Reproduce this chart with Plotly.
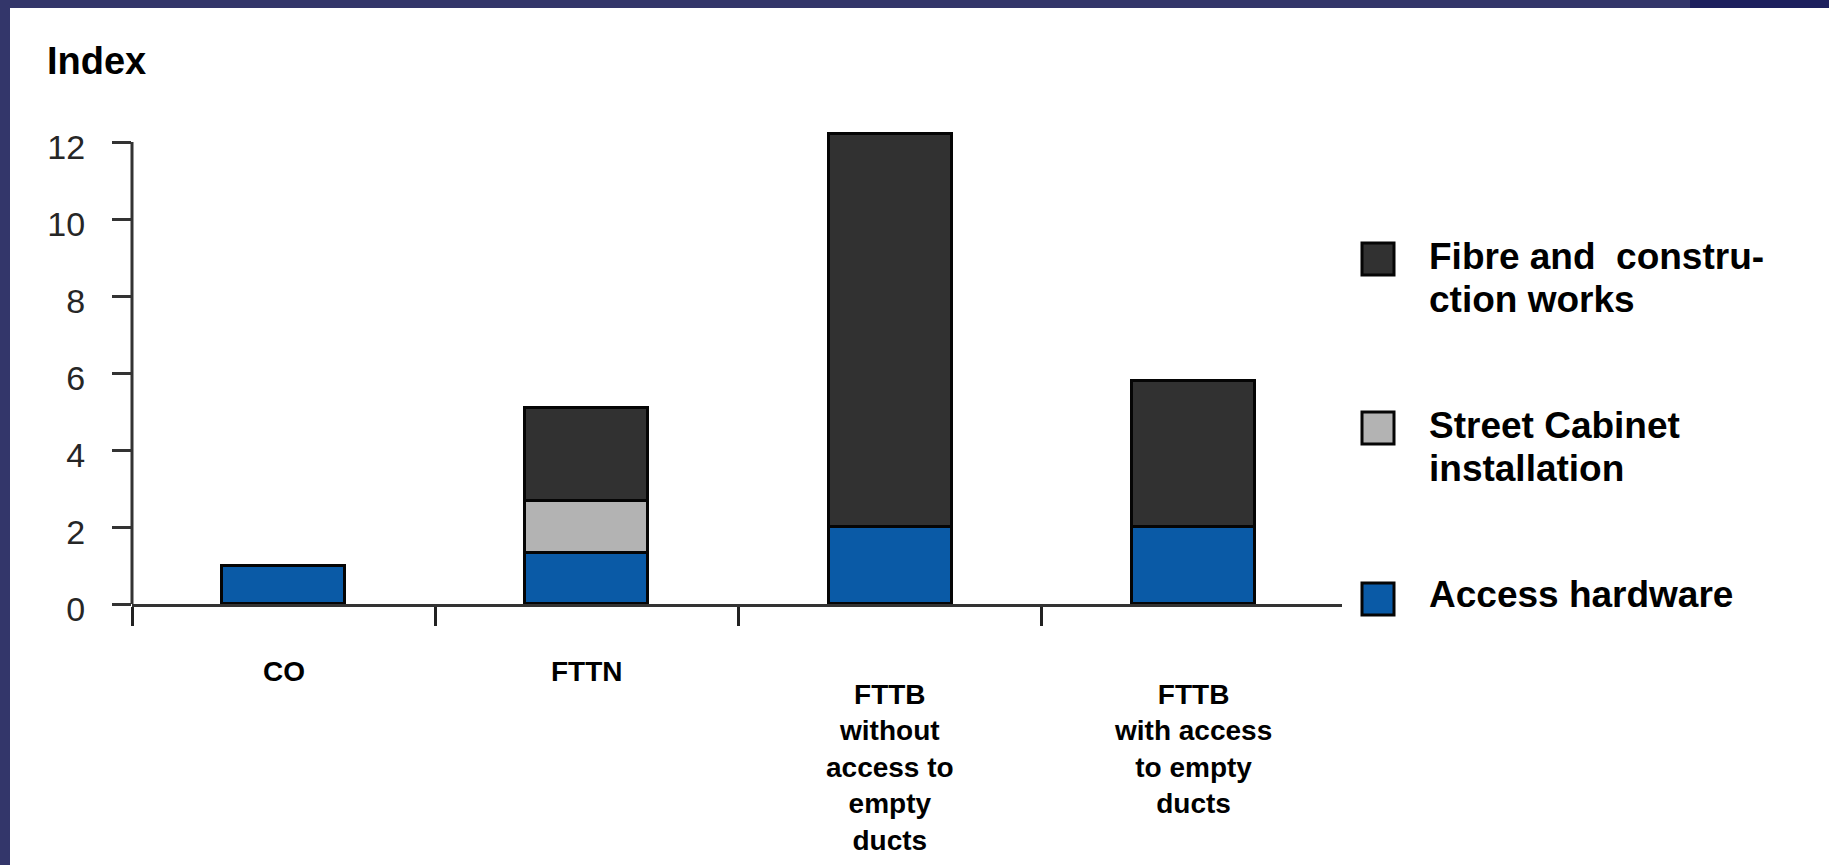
import plotly.graph_objects as go

# ---- data -------------------------------------------------------------
categories = ["CO", "FTTN", "FTTB without access to empty ducts",
              "FTTB with access to empty ducts"]
category_lines = [["CO"], ["FTTN"],
                  ["FTTB", "without", "access to", "empty", "ducts"],
                  ["FTTB", "with access", "to empty", "ducts"]]
access_hardware = [1.0, 1.33, 2.0, 2.0]
street_cabinet = [None, 1.35, None, None]
fibre_construction = [None, 2.4, 10.2, 3.8]
y_ticks = [0, 2, 4, 6, 8, 10, 12]

series_names = [["Fibre and  constru-", "ction works"],
                ["Street Cabinet", "installation"],
                ["Access hardware"]]
series_colors = ["#313131", "#b3b3b3", "#0a5aa6"]

# ---- geometry (pixels) -------------------------------------------------
W, H = 1829, 865
PLOT_L, PLOT_R = 132, 1342
PLOT_T, PLOT_B = 123, 604
Y12_PIX = 142
y_top = 12 * (PLOT_B - PLOT_T) / (PLOT_B - Y12_PIX)


def px(x):
    return (x - PLOT_L) / (PLOT_R - PLOT_L)


def py(y):
    return (PLOT_B - y) / (PLOT_B - PLOT_T)


BOLD = "Liberation Sans, Arial, sans-serif"

fig = go.Figure()
for vals, color in zip([access_hardware, street_cabinet, fibre_construction],
                       series_colors[::-1]):
    fig.add_trace(go.Bar(
        x=categories, y=vals, width=0.405,
        marker=dict(color=color, line=dict(color="#050505", width=3)),
        showlegend=False, hoverinfo="skip",
    ))

shapes = [
    # y axis line from 0 to the top tick
    dict(type="line", xref="paper", yref="y", x0=0, x1=0, y0=0, y1=12,
         line=dict(color="#333333", width=3)),
    # window frame
    dict(type="rect", xref="paper", yref="paper", x0=px(0), x1=px(W),
         y0=py(8), y1=py(0), line=dict(width=0), fillcolor="#33366a",
         layer="above"),
    dict(type="rect", xref="paper", yref="paper", x0=px(1690), x1=px(W),
         y0=py(8), y1=py(0), line=dict(width=0), fillcolor="#1d205e",
         layer="above"),
    dict(type="rect", xref="paper", yref="paper", x0=px(0), x1=px(10),
         y0=py(H), y1=py(0), line=dict(width=0), fillcolor="#33366a",
         layer="above"),
]

annotations = [dict(text="<b>Index</b>", xref="paper", yref="paper",
                    x=px(45), y=py(61), xanchor="left", yanchor="middle",
                    showarrow=False, font=dict(family=BOLD, size=38,
                                               color="#000000"))]

# category labels below the axis, top-aligned
first_line_top = [655, 655, 678, 678]
for cat, lines, top in zip(categories, category_lines, first_line_top):
    annotations.append(dict(
        text="<br>".join(f"<b>{ln}</b>" for ln in lines),
        xref="x", yref="paper", x=cat, y=py(top),
        xanchor="center", yanchor="top", align="center", borderpad=0,
        showarrow=False, font=dict(family=BOLD, size=28, color="#000000")))

# legend
legend_centers = [259, 428, 599]
for names, color, yc in zip(series_names, series_colors, legend_centers):
    shapes.append(dict(type="rect", xref="paper", yref="paper",
                       x0=px(1362), x1=px(1394), y0=py(yc + 16), y1=py(yc - 16),
                       fillcolor=color, line=dict(color="#050505", width=3)))
    n = len(names)
    for i, name in enumerate(names):
        mid = yc - 2 + 43 * (i - (n - 1) / 2) + (21 if n > 1 else 0) - (0 if n > 1 else 3)
        annotations.append(dict(
            text=f"<b>{name}</b>", xref="paper", yref="paper", x=px(1428),
            y=py(mid), xanchor="left", yanchor="middle", showarrow=False,
            borderpad=0, font=dict(family=BOLD, size=37, color="#000000")))

fig.update_layout(
    width=W, height=H, autosize=False,
    margin=dict(l=PLOT_L, r=W - PLOT_R, t=PLOT_T, b=H - PLOT_B, pad=0),
    paper_bgcolor="#ffffff", plot_bgcolor="#ffffff",
    barmode="stack", bargap=0,
    shapes=shapes, annotations=annotations,
    xaxis=dict(type="category", range=[-0.5, 3.49], showticklabels=False,
               tickson="boundaries", ticks="outside", ticklen=19,
               tickwidth=3, tickcolor="#222222", showgrid=False,
               showline=True, linewidth=3, linecolor="#333333",
               zeroline=False, fixedrange=True),
    yaxis=dict(range=[0, y_top], tickvals=y_ticks, ticks="outside",
               ticklen=19, tickwidth=3, tickcolor="#333333",
               showline=False, showgrid=False, zeroline=False,
               ticklabelstandoff=20, ticklabelshift=5,
               tickfont=dict(family="Liberation Sans, Arial",
                             size=34, color="#262626"),
               fixedrange=True),
)

fig.write_html("out.html")
